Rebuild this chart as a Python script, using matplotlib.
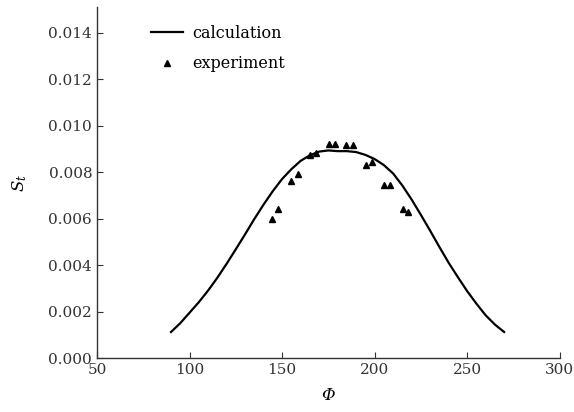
import matplotlib
matplotlib.use("Agg")
import matplotlib.pyplot as plt
from matplotlib.ticker import FormatStrFormatter

# calculation curve
calc_phi = [90, 95, 100, 105, 110, 115, 120, 125, 130, 135, 140, 145, 150, 155, 160, 165, 170, 175, 180,
            185, 190, 195, 200, 205, 210, 215, 220, 225, 230, 235, 240, 245, 250, 255, 260, 265, 270]
calc_st = [0.00112, 0.00150, 0.00195, 0.00240, 0.00290, 0.00345, 0.00405, 0.00468, 0.00532, 0.00598,
           0.00660, 0.00718, 0.00770, 0.00812, 0.00848, 0.00872, 0.00888, 0.00893, 0.00890,
           0.00890, 0.00886, 0.00874, 0.00856, 0.00830, 0.00794, 0.00742, 0.00682, 0.00616,
           0.00548, 0.00478, 0.00410, 0.00348, 0.00288, 0.00234, 0.00184, 0.00144, 0.00112]

# experiment points
exp_phi = [144.7, 147.7, 154.9, 158.5, 165.3, 168.4, 175.5, 178.8, 184.5, 188.1,
           195.3, 198.5, 205.2, 208.2, 215.4, 218.3]
exp_st = [0.00597, 0.00639, 0.00760, 0.00793, 0.00872, 0.00883, 0.00922, 0.00922, 0.00915, 0.00915,
          0.00829, 0.00843, 0.00743, 0.00743, 0.00643, 0.00628]

x_ticks = [50, 100, 150, 200, 250, 300]
y_ticks = [0.000, 0.002, 0.004, 0.006, 0.008, 0.010, 0.012, 0.014]

plt.rcParams['font.family'] = ['DejaVu Serif']
plt.rcParams['mathtext.fontset'] = 'dejavuserif'

fig = plt.figure(figsize=(5.74, 4.12), dpi=100)
ax = fig.add_axes([0.169, 0.131, 0.806, 0.852])

ax.plot(calc_phi, calc_st, color='black', lw=1.6, label='calculation')
ax.plot(exp_phi, exp_st, linestyle='none', marker='^', color='black', markersize=5, label='experiment')

ax.set_xlim(50, 300)
ax.set_ylim(0, 0.0151)
ax.set_xticks(x_ticks)
ax.set_yticks(y_ticks)
ax.yaxis.set_major_formatter(FormatStrFormatter('%.3f'))
ax.spines['top'].set_visible(False)
ax.spines['right'].set_visible(False)
for s in ['left', 'bottom']:
    ax.spines[s].set_linewidth(1.0)
    ax.spines[s].set_color('#333333')
ax.tick_params(direction='in', length=4, width=0.8, labelsize=11, colors='#333333', labelcolor='#333333')

ax.set_xlabel('Φ', fontsize=12, style='italic', labelpad=7)
ax.set_ylabel(r'$S_t$', fontsize=12, labelpad=14)

leg = ax.legend(loc='upper left', bbox_to_anchor=(0.085, 0.99), frameon=False, fontsize=11.5,
                handlelength=2.0, handletextpad=0.6, labelspacing=0.85)

fig.savefig('out.png', dpi=100)
